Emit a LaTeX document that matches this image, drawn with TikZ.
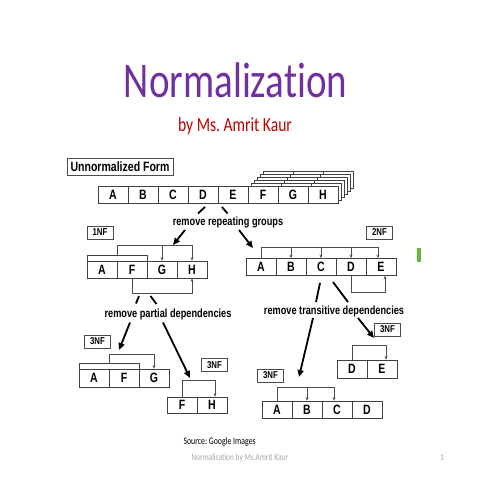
\documentclass[tikz,border=0pt]{standalone}
\usepackage{fontspec}
\usetikzlibrary{calc,arrows.meta}
\newfontfamily\slidefont[FakeStretch=0.78, Ligatures=NoCommon]{Carlito}
\newfontfamily\diagfont[FakeStretch=0.78]{Liberation Sans}
\definecolor{titlepurple}{HTML}{7030A0}
\definecolor{authorred}{HTML}{C00000}
\definecolor{footgray}{HTML}{A6A6A6}
\definecolor{slidegreen}{HTML}{66B83A}
\frenchspacing
\tikzset{
  cell/.style={draw=black!75, fill=white, line width=0.8pt, minimum width=30pt, minimum height=17pt, inner sep=0pt, font=\diagfont\bfseries\fontsize{13.5}{15}\selectfont},
  keystrip/.style={draw=black!75, line width=0.8pt, minimum width=60pt, minimum height=6pt, inner sep=0pt},
  nfbox/.style={draw=black!70, line width=0.8pt, minimum width=26pt, minimum height=13pt, inner sep=0pt, font=\diagfont\bfseries\fontsize{10}{12}\selectfont},
  steplabel/.style={inner sep=1pt, font=\diagfont\bfseries\fontsize{11.8}{14}\selectfont},
  dep/.style={draw=black!70, line width=0.7pt},
  deparrow/.style={dep, -{Stealth[length=3.5pt,width=3pt]}},
  bigarrow/.style={line width=1.8pt, -{Triangle[length=7pt,width=6pt]}},
  stroke/.style={line width=1.8pt}
}
\begin{document}
\begin{tikzpicture}[x=1pt, y=-1pt]
\useasboundingbox (0,0) rectangle (480,480);
\fill[white] (0,0) rectangle (480,480);

%TITEL
\node[anchor=base, text=titlepurple, font=\slidefont\fontsize{50}{60}\selectfont] (title) at (235.5,97) {Normalization};
\node[anchor=base, text=authorred, font=\slidefont\fontsize{20}{24}\selectfont] (author) at (235,131) {by Ms. Amrit Kaur};

%UNNORMALIZED FORM (oben)
\node[draw=black!70, line width=0.8pt, minimum width=106pt, minimum height=17pt, inner sep=0pt, font=\diagfont\bfseries\fontsize{13.5}{15}\selectfont] (unf) at (120,166.5) {Unnormalized Form};

%WIEDERHOLTE GRUPPEN HINTER F, G, H
\foreach \k in {5,4,3,2,1} {
  \foreach \j in {0,1,2} {
    \draw[draw=black!75, fill=white, line width=0.8pt] (248+30*\j+3*\k,186-2.9*\k) rectangle ++(30,17);
  }
}

%ZEILE UNNORMALIZED
\foreach \l [count=\i] in {A,B,C,D,E,F,G,H} {
  \node[cell] (u\l) at (83+30*\i,194.5) {\l};
}

%REMOVE REPEATING GROUPS
\draw[stroke] (205,207) -- (198,213.5);
\draw[stroke] (222,207) -- (227.5,213.5);
\node[steplabel] (rrg) at (228,222) {remove repeating groups};
\coordinate (a1e) at (173,245);
\coordinate (a2e) at (253,248);
\draw[bigarrow] (185,230) -- (a1e);
\draw[bigarrow] (239,230) -- (a2e);

%1NF
\node[nfbox] (lab1) at (100,232.5) {1NF};
\foreach \l [count=\i] in {A,F,G,H} {
  \node[cell] (f\l) at (72+30*\i,269.5) {\l};
}
\node[keystrip] (k1) at (117,258) {};
\draw[deparrow] (k1.north) -- ++(0,-9) coordinate (d1) -| (fH.north);
\draw[deparrow] (fG.north |- d1) -- (fG.north);
\draw[deparrow] (fF.south) -- ++(0,15) -| (fH.south);

%2NF
\node[nfbox] (lab2) at (379.5,232.5) {2NF};
\foreach \l [count=\i] in {A,B,C,D,E} {
  \node[cell] (s\l) at (231+30*\i,267) {\l};
}
\draw[deparrow] (sA.north) -- ++(0,-11) coordinate (d2) -| ([xshift=-3pt]sE.north);
\foreach \l in {B,C,D} {
  \draw[deparrow] (s\l.north |- d2) -- (s\l.north);
}
\draw[deparrow] (sD.south) -- ++(0,16) -| ([xshift=4pt]sE.south);

%REMOVE PARTIAL DEPENDENCIES
\draw[stroke] (139,296) -- (136,303.5);
\draw[stroke] (150.5,296) -- (156.5,304);
\node[steplabel] (rpd) at (168,314) {remove partial dependencies};
\coordinate (a3e) at (119,350);
\coordinate (a4e) at (190,378);
\draw[bigarrow] (130,322.5) -- (a3e);
\draw[bigarrow] (163,322.5) -- (a4e);

%REMOVE TRANSITIVE DEPENDENCIES
\draw[stroke] (320,283) -- (316,302);
\draw[stroke] (333,282) -- (348,302);
\node[steplabel] (rtd) at (334,311) {remove transitive dependencies};
\coordinate (a5e) at (299,377);
\coordinate (a6e) at (374,338);
\draw[bigarrow] (313,318) -- (a5e);
\draw[bigarrow] (358,318) -- (a6e);

%3NF A F G
\node[nfbox] (lab3) at (97.5,341.5) {3NF};
\foreach \l [count=\i] in {A,F,G} {
  \node[cell, minimum height=18pt] (t\l) at (64+30*\i,378) {\l};
}
\node[keystrip] (k2) at (109,366) {};
\draw[deparrow] (k2.north) -- ++(0,-8) -| (tG.north);

%3NF F H
\node[nfbox] (lab4) at (214.5,365) {3NF};
\node[cell, minimum height=16pt] (hF) at (182,405) {F};
\node[cell, minimum height=16pt] (hH) at (212,405) {H};
\draw[deparrow] (hF.north) -- ++(0,-16) -| ([xshift=3pt]hH.north);

%3NF D E
\node[nfbox] (lab5) at (387.5,329.5) {3NF};
\node[cell, minimum height=18pt] (eD) at (352,369) {D};
\node[cell, minimum height=18pt] (eE) at (382,369) {E};
\draw[deparrow] (eD.north) -- ++(0,-14) -| ([xshift=4pt]eE.north);

%3NF A B C D
\node[nfbox] (lab6) at (270.5,375.5) {3NF};
\foreach \l [count=\i] in {A,B,C,D} {
  \node[cell] (r\l) at (247+30*\i,409.5) {\l};
}
\draw[deparrow] (rA.north) -- ++(0,-13) coordinate (d6) -| ([xshift=-3pt]rC.north);
\draw[deparrow] (rB.north |- d6) -- (rB.north);

%RAND
\fill[slidegreen] (417,248) rectangle (421,262);
\node[anchor=base west, font=\slidefont\fontsize{10}{12}\selectfont] (src) at (180,444) {Source: Google Images};
\node[anchor=base west, text=footgray, font=\slidefont\fontsize{9.5}{11}\selectfont] (foot) at (188,460) {Normalisation by Ms.Amrit Kaur};
\node[anchor=base, text=footgray, font=\slidefont\fontsize{9.5}{11}\selectfont] (pg) at (442,460) {1};

\end{tikzpicture}
\end{document}
